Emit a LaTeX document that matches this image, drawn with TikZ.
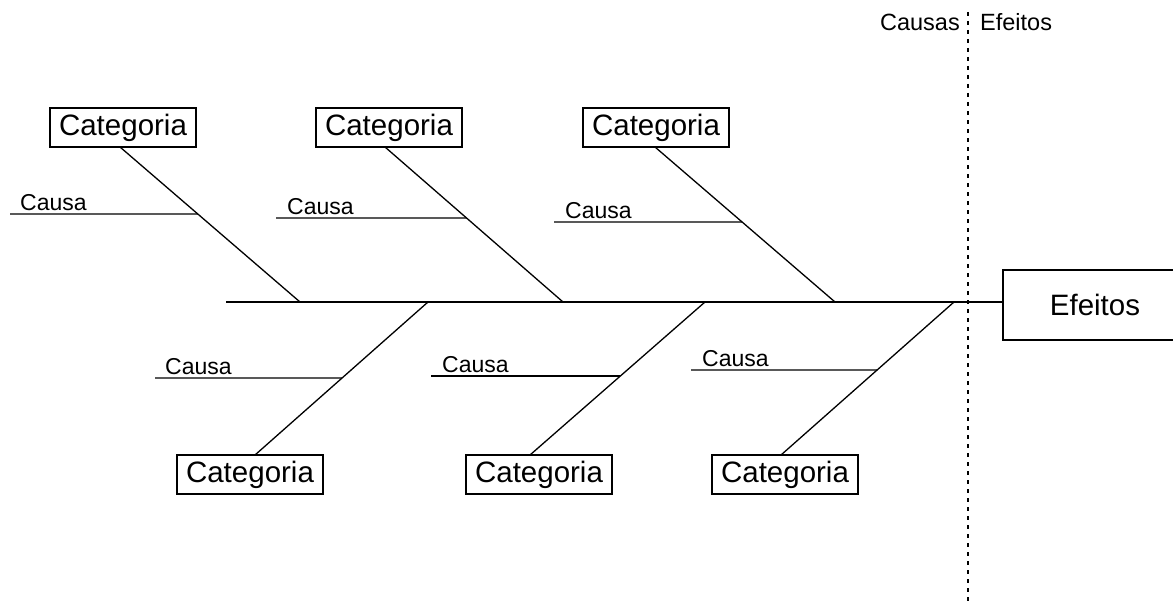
\documentclass[tikz,border=0pt]{standalone}
\usepackage{fontspec}
\setmainfont{Liberation Sans}
\begin{document}
\begin{tikzpicture}[x=1pt,y=-1pt,
  line/.style={line width=1.3pt, black},
  catbox/.style={draw, line width=1.4pt, minimum width=146pt, minimum height=39pt, inner sep=0pt, font=\fontsize{29.5}{31}\selectfont},
  causelbl/.style={anchor=base west, inner sep=0pt, font=\fontsize{23}{25}\selectfont},
  effbox/.style={draw, line width=1.4pt, minimum width=184pt, minimum height=70pt, inner sep=0pt, font=\fontsize{29.5}{31}\selectfont}]
\useasboundingbox (0,0) rectangle (1173,602);
% dotted separator
\coordinate (dtop) at (968,12);
\coordinate (dbot) at (968,602);
\draw[line width=1.5pt, dash pattern=on 4pt off 5pt] (dtop) -- (dbot);
\node[anchor=base east, inner sep=0pt, font=\fontsize{23.5}{25}\selectfont] (causas) at (960,31) {Causas};
\node[anchor=base west, inner sep=0pt, font=\fontsize{23.5}{25}\selectfont] (efeitostop) at (980,31) {Efeitos};
% effect box and spine
\node[effbox] (eff) at (1095,305) {Efeitos};
\coordinate (tail) at (226,302);
\draw[line] (tail) -- (eff.west |- tail);
% spine junctions
\coordinate (s1) at (300,302);
\coordinate (s2) at (563,302);
\coordinate (s3) at (835,302);
\coordinate (s4) at (428,302);
\coordinate (s5) at (705,302);
\coordinate (s6) at (954,302);
% top categories
\node[catbox] (T1) at (123,127.5) {Categoria};
\node[catbox] (T2) at (389,127.5) {Categoria};
\node[catbox] (T3) at (656,127.5) {Categoria};
% bottom categories
\node[catbox] (B1) at (250,474.5) {Categoria};
\node[catbox] (B2) at (539,474.5) {Categoria};
\node[catbox] (B3) at (785,474.5) {Categoria};
% bones
\coordinate (t1) at (120,147);
\coordinate (t2) at (385,147);
\coordinate (t3) at (655,147);
\coordinate (b1) at (255,455);
\coordinate (b2) at (530,455);
\coordinate (b3) at (781,455);
\draw[line] (t1) -- (s1);
\draw[line] (t2) -- (s2);
\draw[line] (t3) -- (s3);
\draw[line] (b1) -- (s4);
\draw[line] (b2) -- (s5);
\draw[line] (b3) -- (s6);
% cause lines
\coordinate (c1) at (10,214);
\coordinate (c2) at (276,218);
\coordinate (c3) at (554,222);
\coordinate (c4) at (155,378);
\coordinate (c5) at (431,376);
\coordinate (c6) at (691,370);
\draw[line] (c1) -- (intersection of c1--[xshift=10pt]c1 and t1--s1) coordinate (e1);
\draw[line] (c2) -- (intersection of c2--[xshift=10pt]c2 and t2--s2) coordinate (e2);
\draw[line] (c3) -- (intersection of c3--[xshift=10pt]c3 and t3--s3) coordinate (e3);
\draw[line] (c4) -- (intersection of c4--[xshift=10pt]c4 and b1--s4) coordinate (e4);
\draw[line] (c5) -- (intersection of c5--[xshift=10pt]c5 and b2--s5) coordinate (e5);
\draw[line] (c6) -- (intersection of c6--[xshift=10pt]c6 and b3--s6) coordinate (e6);
\node[causelbl] (l1) at (20,210) {Causa};
\node[causelbl] (l2) at (287,214) {Causa};
\node[causelbl] (l3) at (565,218) {Causa};
\node[causelbl] (l4) at (165,374) {Causa};
\node[causelbl] (l5) at (442,372) {Causa};
\node[causelbl] (l6) at (702,366) {Causa};
\end{tikzpicture}
\end{document}
